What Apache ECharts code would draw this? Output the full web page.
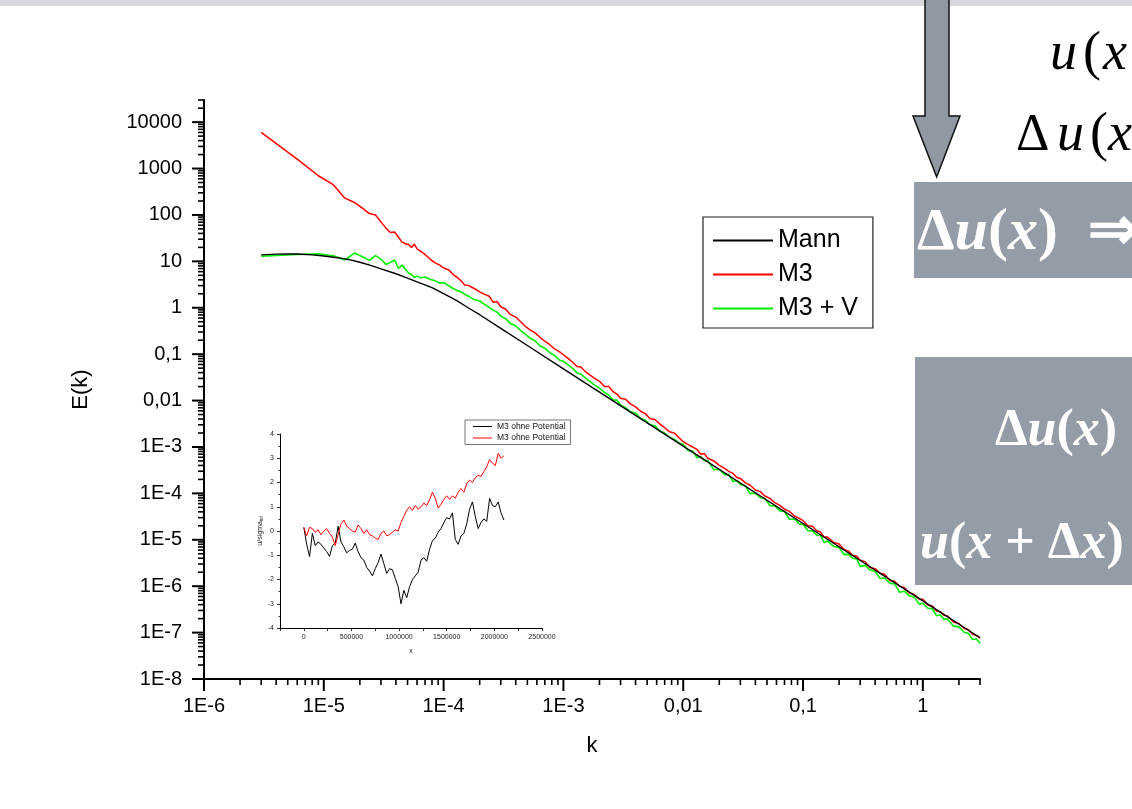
<!DOCTYPE html>
<html><head><meta charset="utf-8">
<script src="https://cdn.jsdelivr.net/npm/echarts@6/dist/echarts.min.js"></script>
<style>html,body{margin:0;padding:0;background:#fff}#c{width:1132px;height:809px}</style>
</head><body><div id="c"></div>
<script>
// ---------- main spectrum data ----------
var kGrid = [
3e-6,6e-6,9e-6,1.2e-5,1.5e-5,1.8e-5,2.1e-5,2.4e-5,2.7e-5,3e-5,3.3e-5,3.6e-5,3.9e-5,4.2e-5,4.5e-5,4.8e-5,5.1e-5,5.4e-5,5.7e-5,6e-5,
6.4e-5,7e-5,7.7e-5,8.5e-5,9.3e-5,
1e-4,1.1e-4,1.2e-4,1.3e-4,1.4e-4,1.5e-4,1.6e-4,1.8e-4,2e-4,2.2e-4,2.4e-4,2.6e-4,2.8e-4,3e-4,3.3e-4,3.6e-4,4e-4,4.4e-4,4.8e-4,5.3e-4,5.8e-4,6.4e-4,7e-4,7.7e-4,8.5e-4,9.3e-4,
1e-3,1.1e-3,1.2e-3,1.3e-3,1.4e-3,1.5e-3,1.6e-3,1.8e-3,2e-3,2.2e-3,2.4e-3,2.6e-3,2.8e-3,3e-3,3.3e-3,3.6e-3,4e-3,4.4e-3,4.8e-3,5.3e-3,5.8e-3,6.4e-3,7e-3,7.7e-3,8.5e-3,9.3e-3,
1e-2,1.1e-2,1.2e-2,1.3e-2,1.4e-2,1.5e-2,1.6e-2,1.8e-2,2e-2,2.2e-2,2.4e-2,2.6e-2,2.8e-2,3e-2,3.3e-2,3.6e-2,4e-2,4.4e-2,4.8e-2,5.3e-2,5.8e-2,6.4e-2,7e-2,7.7e-2,8.5e-2,9.3e-2,
1e-1,1.1e-1,1.2e-1,1.3e-1,1.4e-1,1.5e-1,1.6e-1,1.8e-1,2e-1,2.2e-1,2.4e-1,2.6e-1,2.8e-1,3e-1,3.3e-1,3.6e-1,4e-1,4.4e-1,4.8e-1,5.3e-1,5.8e-1,6.4e-1,7e-1,7.7e-1,8.5e-1,9.3e-1,
1,1.1,1.2,1.3,1.4,1.5,1.6,1.8,2,2.2,2.4,2.6,2.8,3
];
var eM3 = [
6000,1600,700,450,230,186,140,107,100,71,52,42,43,33,26,24,23,20,23.4,18.6,
16.6,14.1,11.2,9.3,8.3,
7.2,6.6,5.2,4.5,3.8,3.1,3.03,2.6,2.2,1.95,1.77,1.31,1.36,1.05,0.93,0.72,0.63,0.50,0.40,0.33,0.288,0.228,0.19,0.16,0.128,0.112,
9.7e-2,8.0e-2,6.6e-2,5.4e-2,5.3e-2,4.4e-2,3.8e-2,3.1e-2,2.6e-2,2.02e-2,2.0e-2,1.55e-2,1.38e-2,1.12e-2,1.07e-2,8.6e-3,7.3e-3,5.9e-3,5.3e-3,4.06e-3,3.9e-3,3.1e-3,2.6e-3,2.12e-3,1.97e-3,1.55e-3,
1.30e-3,1.12e-3,1.0e-3,8.9e-4,7.0e-4,7.2e-4,5.7e-4,5.0e-4,4.0e-4,3.5e-4,2.98e-4,2.7e-4,2.2e-4,2.1e-4,1.68e-4,1.52e-4,1.18e-4,1.09e-4,8.8e-5,7.8e-5,6.3e-5,5.5e-5,4.56e-5,4.1e-5,3.25e-5,2.9e-5,
2.58e-5,2.01e-5,1.95e-5,1.56e-5,1.47e-5,1.144e-5,1.15e-5,8.8e-6,8.1e-6,6.2e-6,5.7e-6,4.56e-6,4.5e-6,3.64e-6,3.38e-6,2.53e-6,2.39e-6,1.9e-6,1.8e-6,1.33e-6,1.28e-6,9.9e-7,9.4e-7,7.1e-7,6.6e-7,5.3e-7,
5.2e-7,3.94e-7,3.74e-7,2.92e-7,2.82e-7,2.35e-7,2.31e-7,1.69e-7,1.56e-7,1.24e-7,1.15e-7,9.2e-8,8.7e-8,7.6e-8
];
var eM3V = [
12.9,14.1,14.5,13.2,10.7,15.1,12.6,10.5,13.3,11.2,8.6,9.5,10.7,7.0,8.3,6.8,5.6,5.2,4.5,4.8,
4.4,4.6,4.1,3.8,3.4,
3.5,3.0,2.6,2.34,2.2,1.95,1.8,1.50,1.40,1.18,1.02,0.88,0.80,0.66,0.58,0.46,0.41,0.32,0.27,0.22,0.193,0.15,0.135,0.108,0.092,0.074,
7.0e-2,5.8e-2,4.9e-2,3.94e-2,3.7e-2,3.2e-2,2.8e-2,2.2e-2,1.85e-2,1.5e-2,1.3e-2,1.03e-2,1.02e-2,7.9e-3,7.1e-3,5.7e-3,5.4e-3,4.1e-3,3.8e-3,3.0e-3,2.85e-3,2.2e-3,2.0e-3,1.6e-3,1.45e-3,1.2e-3,
1.14e-3,8.3e-4,8.2e-4,5.9e-4,6.2e-4,5.1e-4,5.1e-4,3.25e-4,3.32e-4,2.56e-4,2.53e-4,1.8e-4,1.88e-4,1.56e-4,1.46e-4,1.0e-4,1.01e-4,8.05e-5,7.8e-5,5.4e-5,5.44e-5,4.2e-5,4.07e-5,2.76e-5,2.81e-5,2.2e-5,
2.15e-5,1.56e-5,1.55e-5,1.26e-5,1.25e-5,8.7e-6,9.4e-6,7.2e-6,6.8e-6,4.8e-6,4.86e-6,3.97e-6,3.86e-6,2.67e-6,2.81e-6,2.26e-6,2.08e-6,1.47e-6,1.5e-6,1.16e-6,1.12e-6,7.4e-7,7.8e-7,6.2e-7,5.8e-7,4.1e-7,
4.3e-7,3.36e-7,3.26e-7,2.32e-7,2.4e-7,1.95e-7,1.97e-7,1.38e-7,1.33e-7,1.03e-7,9.6e-8,7.1e-8,7.25e-8,5.9e-8
];
var kMann = [3e-6,4e-6,5e-6,6e-6,8e-6,1e-5,1.3e-5,1.6e-5,2e-5,2.5e-5,3e-5,4e-5,5e-5,6e-5,8e-5,1e-4,1.3e-4,1.6e-4,2e-4,3e-4,5e-4,1e-3,1e-2,1e-1,1,3];
var eMann = [13.8,14.3,14.5,14.4,13.8,13.0,12.0,11.0,9.55,8.1,6.9,5.4,4.37,3.63,2.72,2.02,1.41,1.0,0.708,0.360,0.1537,4.84e-2,1.043e-3,2.247e-5,4.84e-7,7.74e-8];

var xTickLabels = ['1E-6','1E-5','1E-4','1E-3','0,01','0,1','1'];
var yTickLabels = ['1E-8','1E-7','1E-6','1E-5','1E-4','1E-3','0,01','0,1','1','10','100','1000','10000'];

// ---------- inset data ----------
var insetX = [0,30000,60000,90000,120000,150000,180000,210000,240000,270000,300000,330000,360000,390000,420000,450000,480000,510000,540000,570000,600000,630000,660000,690000,720000,750000,780000,810000,840000,870000,900000,930000,960000,990000,
1020000,1050000,1080000,1110000,1140000,1170000,1200000,1230000,1260000,1290000,1320000,1350000,1380000,1410000,1440000,1470000,1500000,1530000,1560000,1590000,1620000,1650000,1680000,1710000,1740000,1770000,1800000,1830000,1860000,1890000,1920000,1950000,1980000,2010000,2040000,2070000,2100000];
var insetBlack = [0.15,-0.55,-1.05,-0.1,-0.6,-0.45,-0.55,-0.7,-0.85,-1.05,-0.6,-0.5,0.2,-0.45,-0.65,-0.9,-0.8,-0.75,-0.5,-0.85,-1.1,-1.2,-1.5,-1.65,-1.85,-1.55,-1.3,-0.95,-1.35,-1.75,-1.55,-1.6,-1.95,-2.3,
-3.0,-2.45,-2.75,-2.3,-2.0,-1.85,-1.7,-1.2,-1.1,-1.25,-0.75,-0.4,-0.3,-0.05,0.1,0.35,0.55,0.5,0.75,-0.35,-0.55,-0.2,-0.1,0.3,0.9,1.2,0.6,0.1,0.35,0.5,0.4,1.35,1.05,1.0,1.2,0.75,0.45];
var insetRed = [0.15,-0.2,0.15,0.1,-0.05,0.05,-0.15,0.0,0.1,-0.1,-0.25,-0.6,-0.15,0.3,0.45,0.2,0.1,0.0,-0.05,0.25,0.1,-0.1,0.05,-0.15,-0.2,-0.3,-0.35,-0.1,0.0,-0.2,-0.15,-0.05,0.05,0.0,
0.35,0.6,0.85,1.0,0.85,1.05,0.9,1.0,1.15,1.05,1.3,1.6,1.35,0.95,1.1,1.3,1.45,1.3,1.45,1.35,1.6,1.75,1.6,1.95,2.1,2.0,2.2,2.3,2.25,2.45,2.65,2.95,2.8,2.7,3.2,3.0,3.1];

// ---------- build ----------
var SANS = '"Liberation Sans", Arial, sans-serif';
var SERIF = '"Liberation Serif", "Times New Roman", serif';
var Y_MAX = Math.log10(30000);

function logPairs(ks, es) { return ks.map(function (k, i) { return [k, Math.log10(es[i])]; }); }
function pairs(xs, ys) { return xs.map(function (x, i) { return [x, ys[i]]; }); }

// axis ticks (major & log minor), positioned through the axes
var tickData = [];
for (var e = -8; e <= 4; e++) {
  tickData.push([1e-6, e, 1]);
  for (var m = 2; m <= 9; m++) { var v = Math.log10(m) + e; if (v <= Y_MAX + 1e-9) tickData.push([1e-6, v, 0]); }
}
for (var e2 = -6; e2 <= 0; e2++) {
  tickData.push([Math.pow(10, e2), -8, 3]);
  for (var m2 = 2; m2 <= 9; m2++) { var v2 = m2 * Math.pow(10, e2); if (v2 <= 3 + 1e-9) tickData.push([v2, -8, 2]); }
}

function xLabel(v) {
  var e = Math.round(Math.log10(v));
  if (Math.abs(v / Math.pow(10, e) - 1) > 1e-3) return '';
  return xTickLabels[e + 6] || '';
}
function yLabel(v) {
  if (Math.abs(v - Math.round(v)) > 1e-6) return '';
  return yTickLabels[Math.round(v) + 8] || '';
}
function serifText(x, y, parts, size, color, bold) {
  var txt = parts.map(function (p) { return '{' + p[0] + '|' + p[1] + '}'; }).join('');
  var base = { fontSize: size, fontFamily: SERIF, fill: color, fontWeight: bold ? 'bold' : 'normal' };
  return { type: 'text', x: x, y: y, z: 12, style: { text: txt, verticalAlign: 'middle', fill: color,
    fontSize: size, fontFamily: SERIF,
    rich: { n: Object.assign({}, base), i: Object.assign({ fontStyle: 'italic' }, base) } } };
}

var chart = echarts.init(document.getElementById('c'), null, { renderer: 'canvas' });
chart.setOption({
  animation: false,
  backgroundColor: '#fff',
  grid: [
    { left: 204, top: 100, width: 776, height: 579, outerBoundsMode: 'none' },
    { left: 280, top: 434, width: 262, height: 194, outerBoundsMode: 'none' }
  ],
  xAxis: [
    { type: 'log', logBase: 10, gridIndex: 0, min: 1e-6, max: 3, splitNumber: 6,
      axisLine: { onZero: false, lineStyle: { color: '#000', width: 2 } },
      axisTick: { show: false }, splitLine: { show: false },
      axisLabel: { formatter: xLabel, fontSize: 20, color: '#000', fontFamily: SANS, margin: 17 },
      name: 'k', nameLocation: 'middle', nameGap: 56,
      nameTextStyle: { fontSize: 22, color: '#000', fontFamily: SANS } },
    { type: 'value', gridIndex: 1, min: -250000, max: 2500000, interval: 250000,
      axisLine: { onZero: false, lineStyle: { color: '#000', width: 1 } },
      axisTick: { length: 3, lineStyle: { color: '#000', width: 0.8 } }, splitLine: { show: false },
      axisLabel: { formatter: function (v) { return (v >= 0 && v % 500000 === 0) ? String(v) : ''; },
        fontSize: 7, color: '#222', fontFamily: SANS, margin: 6 },
      name: 'x', nameLocation: 'middle', nameGap: 20,
      nameTextStyle: { fontSize: 7, color: '#222', fontFamily: SANS } }
  ],
  yAxis: [
    { type: 'value', gridIndex: 0, min: -8, max: Y_MAX, interval: 1,
      axisLine: { onZero: false, lineStyle: { color: '#000', width: 2 } },
      axisTick: { show: false }, splitLine: { show: false },
      axisLabel: { formatter: yLabel, fontSize: 20, color: '#000', fontFamily: SANS, margin: 22 },
      name: 'E(k)', nameLocation: 'middle', nameGap: 112, nameRotate: 90,
      nameTextStyle: { fontSize: 22, color: '#000', fontFamily: SANS } },
    { type: 'value', gridIndex: 1, min: -4, max: 4, interval: 1,
      axisLine: { onZero: false, lineStyle: { color: '#000', width: 1 } },
      axisTick: { length: 3, lineStyle: { color: '#000', width: 0.8 } },
      minorTick: { show: true, splitNumber: 2, length: 1.5, lineStyle: { color: '#000', width: 0.8 } },
      splitLine: { show: false }, minorSplitLine: { show: false },
      axisLabel: { fontSize: 7, color: '#222', fontFamily: SANS, margin: 6 },
      name: '{a|u/sigma}{b|inf}', nameLocation: 'middle', nameGap: 11, nameRotate: 90,
      nameTextStyle: { fontSize: 7, color: '#222', fontFamily: SANS,
        rich: { a: { fontSize: 7, fontFamily: SANS, color: '#222' },
                b: { fontSize: 4.5, fontFamily: SANS, color: '#222', verticalAlign: 'bottom' } } } }
  ],
  legend: [
    { data: ['Mann', 'M3', 'M3 + V'], orient: 'vertical', left: 703, top: 217,
      padding: [11, 15, 7, 10], itemGap: 9, itemWidth: 60, itemHeight: 2, icon: 'rect',
      borderColor: '#222', borderWidth: 1.2, backgroundColor: '#fff', selectedMode: false,
      textStyle: { fontSize: 25, color: '#000', fontFamily: SANS } },
    { data: ['M3 ohne Potential#1', 'M3 ohne Potential#2'], orient: 'vertical', left: 465, top: 420,
      padding: [2, 5, 2, 8], itemGap: 2.5, itemWidth: 19, itemHeight: 1, icon: 'rect',
      borderColor: '#555', borderWidth: 0.8, backgroundColor: '#fff', selectedMode: false,
      formatter: function (n) { return n.split('#')[0]; },
      textStyle: { fontSize: 8.5, color: '#111', fontFamily: SANS } }
  ],
  series: [
    { name: 'M3', type: 'line', xAxisIndex: 0, yAxisIndex: 0, data: logPairs(kGrid, eM3),
      showSymbol: false, symbol: 'none', color: '#ff0000', lineStyle: { color: '#ff0000', width: 1.5 }, z: 3 },
    { name: 'M3 + V', type: 'line', xAxisIndex: 0, yAxisIndex: 0, data: logPairs(kGrid, eM3V),
      showSymbol: false, symbol: 'none', color: '#00ee00', lineStyle: { color: '#00ee00', width: 1.6 }, z: 3 },
    { name: 'Mann', type: 'line', xAxisIndex: 0, yAxisIndex: 0, data: logPairs(kMann, eMann),
      showSymbol: false, symbol: 'none', color: '#000', lineStyle: { color: '#000', width: 1.4 }, z: 4 },
    { name: 'M3 ohne Potential#1', type: 'line', xAxisIndex: 1, yAxisIndex: 1, data: pairs(insetX, insetBlack),
      showSymbol: false, symbol: 'none', color: '#000', lineStyle: { color: '#000', width: 1.0 } },
    { name: 'M3 ohne Potential#2', type: 'line', xAxisIndex: 1, yAxisIndex: 1, data: pairs(insetX, insetRed),
      showSymbol: false, symbol: 'none', color: '#ff0000', lineStyle: { color: '#ff0000', width: 1.0 } },
    { type: 'custom', xAxisIndex: 0, yAxisIndex: 0, data: tickData, encode: { x: 0, y: 1 },
      clip: false, silent: true, z: 6,
      renderItem: function (params, api) {
        var kind = api.value(2);
        var p = api.coord([api.value(0), api.value(1)]);
        var major = (kind === 1 || kind === 3);
        var len = major ? 12 : 6;
        var shape = kind < 2 ? { x1: p[0] - len, y1: p[1], x2: p[0], y2: p[1] }
                             : { x1: p[0], y1: p[1], x2: p[0], y2: p[1] + len };
        return { type: 'line', shape: shape, style: { stroke: '#000', lineWidth: major ? 2 : 1.6 } };
      } }
  ],
  graphic: { elements: [
    { type: 'rect', shape: { x: 0, y: 0, width: 1132, height: 6 }, style: { fill: '#d5d8dd' }, z: 10 },
    { type: 'polygon', shape: { points: [[925, -3], [949, -3], [949, 116], [960, 116], [936.7, 177], [913, 116], [925, 116]] },
      style: { fill: '#8f98a3', stroke: '#111', lineWidth: 1.5 }, z: 11 },
    { type: 'rect', shape: { x: 914, y: 182, width: 218, height: 96 }, style: { fill: '#949ca7' }, z: 10 },
    { type: 'rect', shape: { x: 915, y: 357, width: 217, height: 228 }, style: { fill: '#949ca7' }, z: 10 },
    serifText(1050, 55, [['i', 'u']], 54, '#000', false),
    serifText(1083, 55, [['n', '(']], 54, '#000', false),
    serifText(1103, 55, [['i', 'x']], 54, '#000', false),
    serifText(1016, 136, [['n', 'Δ']], 52, '#000', false),
    serifText(1057, 136, [['i', 'u']], 54, '#000', false),
    serifText(1090, 136, [['n', '(']], 54, '#000', false),
    serifText(1108, 136, [['i', 'x']], 54, '#000', false),
    serifText(917, 233, [['n', 'Δ'], ['i', 'u'], ['n', '('], ['i', 'x'], ['n', ')  ⇒']], 60, '#fff', true),
    serifText(995, 432, [['n', 'Δ'], ['i', 'u'], ['n', '('], ['i', 'x'], ['n', ')']], 52, '#fff', true),
    serifText(920, 545, [['i', 'u'], ['n', '('], ['i', 'x'], ['n', ' + Δ'], ['i', 'x'], ['n', ')']], 52, '#fff', true)
  ] }
});
</script>
</body></html>
